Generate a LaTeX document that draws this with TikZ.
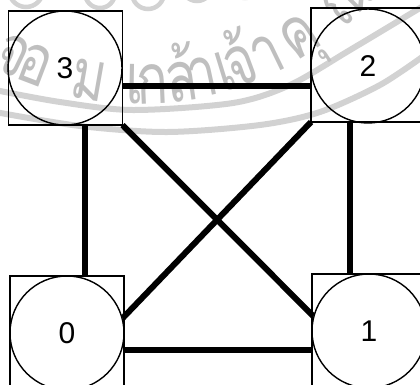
\documentclass[tikz,border=0pt]{standalone}
\usepackage{fontspec}
\setmainfont{Liberation Sans}
\newfontfamily\thaifont[Script=Thai]{Loma}
\usetikzlibrary{calc}
\begin{document}
\begin{tikzpicture}[x=1pt,y=-1pt,
  sq/.style={draw, line width=1.4pt, minimum size=114pt, inner sep=0pt, outer sep=0pt},
  cir/.style={draw, circle, line width=1.4pt, minimum size=114pt, inner sep=0pt,
              font=\fontsize{30}{30}\selectfont},
  edge/.style={line width=6pt},
  wm/.style={gray!35},
  wmtext/.style={gray!50, font=\thaifont\fontsize{70}{70}\selectfont, anchor=base, inner sep=0pt}]
\useasboundingbox (0,0) rectangle (420,384);
\clip (0,0) rectangle (420,384);
% watermark
\begin{scope}[wm]
  \draw[line width=6pt] plot[smooth] coordinates {(-5,90) (60,102) (133,110) (233,103) (290,85) (350,50) (425,5)};
  \draw[line width=6pt] plot[smooth] coordinates {(-5,112) (80,126) (167,132) (260,125) (320,112) (380,85) (425,55)};
  \foreach \cx/\cy/\r in {26/-10/17, 100/-7/15, 148/-7/16, 197/-14/15, 245/-16/14} {
    \draw[line width=4.5pt] (\cx,\cy) circle[radius=\r];
  }
\end{scope}
\foreach \x/\t in {10/จ, 33/อ, 88/ม, 135/เ, 153/ก, 183/ล้, 204/า, 228/เ, 244/จ้, 271/า, 304/คุ, 352/ณ} {
  \pgfmathsetmacro\a{acos((\x-140)/300)}
  \node[wmtext, rotate=90-\a, xscale=0.75] (w\x) at ($(140,-208)+(\a:312)$) {\t};
}
% nodes
\node[sq] (s3) at (65.5,68) {};
\node[cir] (n3) at (65,68) {3};
\node[sq] (s2) at (368,65) {};
\node[cir] (n2) at (368,66) {2};
\node[sq] (s0) at (67,333) {};
\node[cir] (n0) at (67,333) {0};
\node[sq] (s1) at (369,331) {};
\node[cir] (n1) at (369,331) {1};
% edges
\draw[edge] ([yshift=-18pt]s3.east) -- ([yshift=-18pt]s3.east -| s2.west);
\draw[edge] ([yshift=-17pt]s0.east) -- ([yshift=-17pt]s0.east -| s1.west);
\draw[edge] ([xshift=19.5pt]s3.south) -- ([xshift=19.5pt]s3.south |- s0.north);
\draw[edge] ([xshift=-18pt]s2.south) -- ([xshift=-18pt]s2.south |- s1.north);
\draw[edge] (s3.south east) -- (n1.165);
\draw[edge] (s2.south west) -- (n0.15);
\end{tikzpicture}
\end{document}
